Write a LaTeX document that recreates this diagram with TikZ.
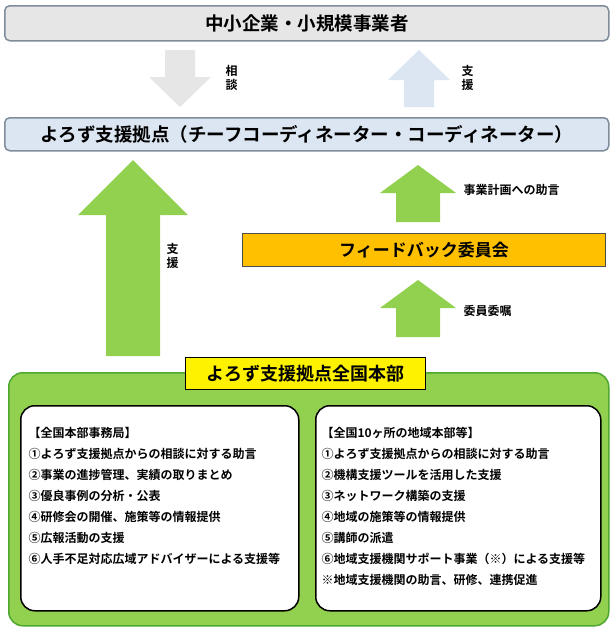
\documentclass[tikz,border=0pt]{standalone}
\usepackage{fontspec}
\setmainfont{Noto Sans CJK JP}
\newfontfamily\jpb{Noto Sans CJK JP Bold}
\definecolor{lgray}{HTML}{E6E6E6}
\definecolor{lblue}{HTML}{DCE6F2}
\definecolor{grn}{HTML}{92D050}
\definecolor{grnb}{HTML}{4EA72E}
\definecolor{org}{HTML}{FFC000}
\definecolor{bord}{HTML}{7F8C99}
\newcommand{\myup}[7]{% xc, ytop, ybot, shaft half, head half, head len, color
 \fill[#7] (#1,#2) -- (#1+#5,#2+#6) -- (#1+#4,#2+#6) -- (#1+#4,#3) -- (#1-#4,#3) -- (#1-#4,#2+#6) -- (#1-#5,#2+#6) -- cycle;}
\newcommand{\mydown}[7]{%
 \fill[#7] (#1,#3) -- (#1+#5,#3-#6) -- (#1+#4,#3-#6) -- (#1+#4,#2) -- (#1-#4,#2) -- (#1-#4,#3-#6) -- (#1-#5,#3-#6) -- cycle;}
\tikzset{
 bar/.style={draw=bord,line width=1.5pt,rounded corners=5pt,font=\jpb\fontsize{18.5}{20}\selectfont},
 lbl/.style={font=\jpb\fontsize{12}{14}\selectfont,align=center,anchor=west},
 item/.style={anchor=north west,align=left,font=\jpb\fontsize{12}{21}\selectfont}
}
\begin{document}
\begin{tikzpicture}[x=1pt,y=-1pt]
\useasboundingbox (0,0) rectangle (615,629);
\fill[white] (0,0) rectangle (615,629);
% top boxes
\node[bar,fill=lgray,minimum width=604,minimum height=35,anchor=north west] (smb) at (4,5) {中小企業・小規模事業者};
\node[bar,fill=lblue,minimum width=604,minimum height=33,anchor=north west] (yorozu) at (4,117) {よろず支援拠点（チーフコーディネーター・コーディネーター）};
% gray & blue arrows
\mydown{180}{50}{107}{15}{31}{30}{lgray}
\node[lbl] (soudan) at (222,78) {相\\談};
\myup{419}{50}{107}{15}{31}{30}{lblue}
\node[lbl] (shien1) at (458,78) {支\\援};
% big green arrow
\myup{133}{160}{356}{27}{55}{55}{grn}
\node[lbl] (shien2) at (163,256) {支\\援};
% feedback
\node[draw=black!70,line width=1pt,fill=org,minimum width=363,minimum height=33,anchor=north west,font=\jpb\fontsize{17}{19}\selectfont] (fb) at (242,233) {フィードバック委員会};
\myup{418}{165}{222}{22}{38}{28}{grn}
\node[lbl] (jogen) at (460,190) {事業計画への助言};
\myup{418}{280}{337}{22}{38}{28}{grn}
\node[lbl] (iin) at (460,311) {委員委嘱};
% HQ
\node[draw=grnb,line width=1.5pt,fill=grn,rounded corners=14pt,minimum width=600,minimum height=253,anchor=north west] (hq) at (8,372) {};
\node[draw=black,line width=1pt,fill=yellow,minimum width=240,minimum height=32,anchor=north west,font=\jpb\fontsize{18}{20}\selectfont] (hqt) at (185,357) {よろず支援拠点全国本部};
\node[draw=black,line width=1.5pt,fill=white,rounded corners=14pt,minimum width=278,minimum height=205,anchor=north west] (lb) at (20,405) {};
\node[draw=black,line width=1.5pt,fill=white,rounded corners=14pt,minimum width=285,minimum height=205,anchor=north west] (rb) at (315,405) {};
\node[item] (lt) at (25,424) {【全国本部事務局】\\①よろず支援拠点からの相談に対する助言\\②事業の進捗管理、実績の取りまとめ\\③優良事例の分析・公表\\④研修会の開催、施策等の情報提供\\⑤広報活動の支援\\⑥人手不足対応広域アドバイザーによる支援等};
\node[item] (rt) at (318,424) {【全国10ヶ所の地域本部等】\\①よろず支援拠点からの相談に対する助言\\②機構支援ツールを活用した支援\\③ネットワーク構築の支援\\④地域の施策等の情報提供\\⑤講師の派遣\\⑥地域支援機関サポート事業（※）による支援等\\※地域支援機関の助言、研修、連携促進};
\end{tikzpicture}
\end{document}
